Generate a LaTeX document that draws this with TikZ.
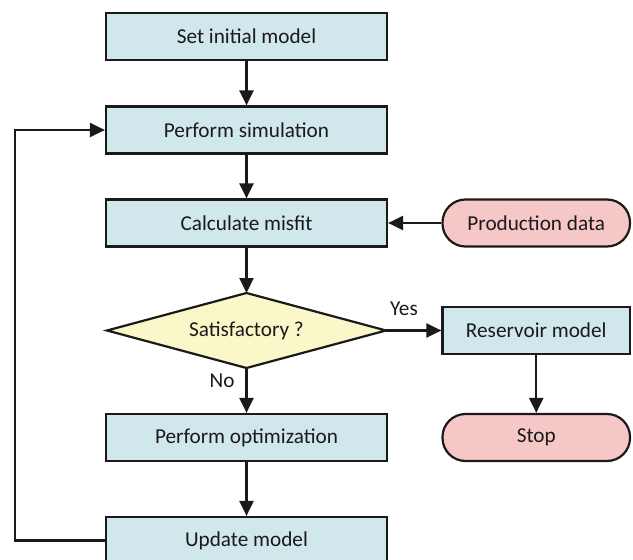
\documentclass[tikz,border=0pt]{standalone}
\usepackage{fontspec}
\setmainfont{Carlito}
\usetikzlibrary{arrows.meta}
\definecolor{boxblue}{RGB}{208,231,236}
\definecolor{decyellow}{RGB}{250,247,200}
\definecolor{pillpink}{RGB}{245,199,199}
\definecolor{ink}{RGB}{26,26,26}
\begin{document}
\begin{tikzpicture}[x=1bp,y=-1bp,
  every node/.style={font=\fontsize{21.3}{25}\selectfont, text=ink},
  procbox/.style={draw=ink, line width=2.2bp, fill=boxblue, minimum width=281bp, minimum height=47bp, inner sep=0pt},
  sidebox/.style={draw=ink, line width=2.2bp, fill=boxblue, minimum width=187.5bp, minimum height=47bp, inner sep=0pt},
  pill/.style={draw=ink, line width=2.2bp, fill=pillpink, minimum width=187.5bp, minimum height=47bp, inner sep=0pt, rounded corners=23bp},
  decshape/.style={draw=ink, line width=2.2bp, fill=decyellow, line join=miter},
  flow/.style={draw=ink, line width=2.2bp, -{Triangle[length=15bp,width=14bp]}}]
\useasboundingbox (0,0) rectangle (633,560);
\node[procbox] (init) at (246.5,36.5) {Set initial model};
\node[procbox] (sim) at (246.5,130) {Perform simulation};
\node[procbox] (misfit) at (246.5,223) {Calculate misfit};
\coordinate (satN) at (246.5,293);
\coordinate (satE) at (386,330.5);
\coordinate (satS) at (246.5,368);
\coordinate (satW) at (107,330.5);
\draw[decshape] (satN) -- (satE) -- (satS) -- (satW) -- cycle;
\node (sat) at (246.5,331) {Satisfactory ?};
\node[procbox] (opt) at (246.5,437.5) {Perform optimization};
\node[procbox] (upd) at (246.5,540.5) {Update model};
\node[pill] (prod) at (536.25,223) {Production data};
\node[sidebox] (res) at (536.25,330.5) {Reservoir model};
\node[pill] (stop) at (536.25,437.5) {Stop};
\node (yes) at (404,309) {Yes};
\node (no) at (222,381) {No};
\coordinate (lb) at (15,540.5);
\coordinate (lt) at (15,130);
\draw[flow] (init) -- (sim);
\draw[flow] (sim) -- (misfit);
\draw[flow] (misfit) -- (satN);
\draw[flow] (satS) -- (opt);
\draw[flow] (opt) -- (upd);
\draw[flow] (prod) -- (misfit);
\draw[flow] (satE) -- (res);
\draw[flow] (res) -- (stop);
\draw[flow] (upd.west) -- (lb) -- (lt) -- (sim.west);
\end{tikzpicture}
\end{document}
